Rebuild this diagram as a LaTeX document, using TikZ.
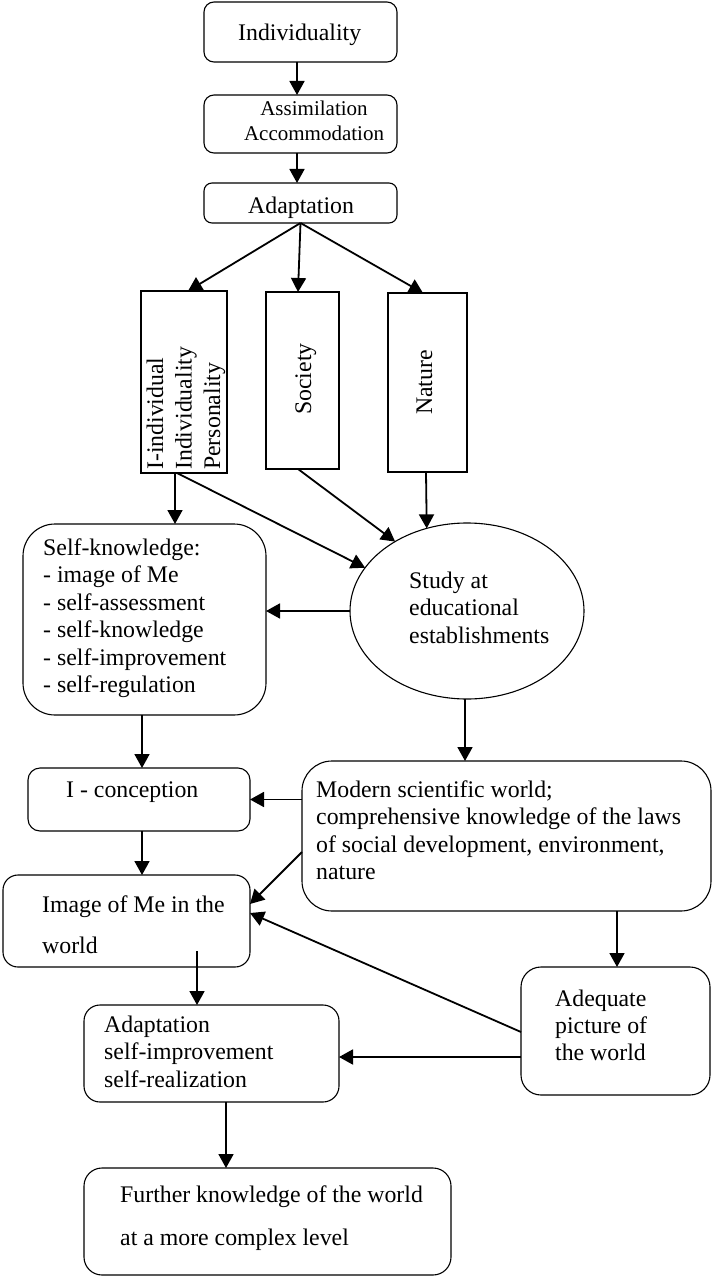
\documentclass[tikz,border=0pt]{standalone}
\usepackage{fontspec}
\setmainfont{Liberation Serif}
\usetikzlibrary{shapes.geometric,arrows.meta}
\begin{document}
\begin{tikzpicture}[x=1pt,y=-1pt,
  box/.style={draw,line width=1.1pt,rectangle,inner sep=0pt,outer sep=0pt},
  rbox/.style={box,rounded corners=#1},
  arr/.style={line width=1.8pt,-{Triangle[length=14pt,width=15pt]}},
  txt/.style={anchor=base west,inner sep=0pt,align=left,font=\fontsize{23.8}{27.5}\selectfont},
]
\useasboundingbox[fill=white] (0,0) rectangle (713,1276);
% boxes
\node[rbox=10pt,minimum width=193pt,minimum height=60pt] (indiv) at (300.5,32) {};
\node[rbox=10pt,minimum width=193pt,minimum height=58pt] (assim) at (300.5,124) {};
\node[rbox=8pt,minimum width=193pt,minimum height=40pt] (adapt) at (300.5,203) {};
\node[box,minimum width=86pt,minimum height=182pt] (ibox) at (184,382) {};
\node[box,minimum width=73pt,minimum height=177pt] (soc) at (302.5,380.5) {};
\node[box,minimum width=79pt,minimum height=179pt] (nat) at (427.5,382.5) {};
\node[rbox=32pt,minimum width=243pt,minimum height=191pt] (sk) at (144.5,619.5) {};
\node[draw,line width=1.1pt,ellipse,inner sep=0pt,outer sep=0pt,minimum width=234pt,minimum height=176pt] (study) at (467,611) {};
\node[rbox=12pt,minimum width=222pt,minimum height=63pt] (icon) at (139,799.5) {};
\node[rbox=30pt,minimum width=409pt,minimum height=150pt] (modern) at (506.5,836) {};
\node[rbox=15pt,minimum width=247pt,minimum height=92pt] (image) at (126.5,921) {};
\node[rbox=20pt,minimum width=189pt,minimum height=128pt] (adequate) at (615.5,1031) {};
\node[rbox=16pt,minimum width=255pt,minimum height=97pt] (adapt2) at (211.5,1053.5) {};
\node[rbox=18pt,minimum width=367pt,minimum height=107pt] (further) at (267.5,1221.5) {};
% texts (multi-line nodes are anchored at the baseline of their last line)
\node[txt] (t1) at (238,40.5) {Individuality};
\node[anchor=base,inner sep=0pt,align=center,font=\fontsize{21}{25}\selectfont] (t2) at (314,141) {Assimilation\\Accommodation};
\node[txt] (t3) at (248,213) {Adaptation};
\node[txt,rotate=90] (t4) at (220,470) {I-individual\\[1pt]Individuality\\[1pt]Personality};
\node[txt,rotate=90] (t5) at (311,415) {Society};
\node[txt,rotate=90] (t6) at (432,415) {Nature};
\node[txt] (t7) at (43,692.5) {Self-knowledge:\\- image of Me\\- self-assessment\\- self-knowledge\\- self-improvement\\- self-regulation};
\node[txt] (t8) at (409,643) {Study at\\educational\\establishments};
\node[txt] (t9) at (66,797) {I - conception};
\node[txt] (t10) at (316,879.5) {Modern scientific world;\\comprehensive knowledge of the laws\\of social development, environment,\\nature};
\node[txt,font=\fontsize{23.8}{41}\selectfont] (t11) at (42,953) {Image of Me in the\\world};
\node[txt,font=\fontsize{23.8}{27}\selectfont] (t12) at (555,1060) {Adequate\\picture of\\the world};
\node[txt] (t13) at (104,1087) {Adaptation\\self-improvement\\self-realization};
\node[txt,font=\fontsize{23.8}{43}\selectfont] (t14) at (120,1245) {Further knowledge of the world\\at a more complex level};
% connectors
\coordinate (imgout) at (197,951);
\draw[arr] (297,0 |- indiv.south) -- (297,0 |- assim.north);
\draw[arr] (297,0 |- assim.south) -- (297,0 |- adapt.north);
\draw[arr] (adapt.south) -- (188,0 |- ibox.north);
\draw[arr] (adapt.south) -- (298,0 |- soc.north);
\draw[arr] (adapt.south) -- (423,0 |- nat.north);
\draw[arr] (175,0 |- ibox.south) -- (175,0 |- sk.north);
\draw[arr] (177,0 |- ibox.south) -- (study.157);
\draw[arr] (298,0 |- soc.south) -- (study.136.6);
\draw[arr] (426,0 |- nat.south) -- (study.116.5);
\draw[arr] (study.west) -- (sk.east |- study.west);
\draw[arr] (465,0 |- study.south) -- (465,0 |- modern.north);
\draw[arr] (142,0 |- sk.south) -- (142,0 |- icon.north);
\draw[arr] (modern.west |- icon.east) -- (icon.east);
\draw[arr] (modern.west |- 0,852) -- (image.east |- 0,904);
\draw[arr] (142,0 |- icon.south) -- (142,0 |- image.north);
\draw[arr] (617,0 |- modern.south) -- (617,0 |- adequate.north);
\draw[arr] (adequate.west |- 0,1032) -- (image.east |- 0,913);
\draw[arr] (imgout) -- (imgout |- adapt2.north);
\draw[arr] (adequate.west |- 0,1057) -- (adapt2.east |- 0,1057);
\draw[arr] (226,0 |- adapt2.south) -- (226,0 |- further.north);
\end{tikzpicture}
\end{document}
